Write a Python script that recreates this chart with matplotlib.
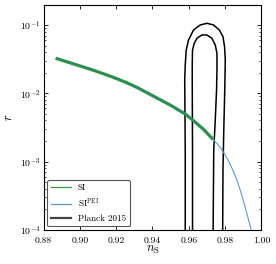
"""Tensor-to-scalar ratio vs spectral index: SI and SI^PEI against Planck 2015 contours."""
import matplotlib
matplotlib.use("Agg")
import matplotlib.pyplot as plt
from matplotlib.lines import Line2D

plt.rcParams["font.family"] = "serif"
plt.rcParams["font.serif"] = ["cmr10"]
plt.rcParams["mathtext.fontset"] = "cm"
plt.rcParams["axes.formatter.use_mathtext"] = True

# ---------------------------------------------------------------------------
# data
# ---------------------------------------------------------------------------

# SI prediction (green, thick)
ns_si = [0.88668, 0.89843, 0.90781, 0.91720, 0.92493, 0.93155, 0.94038,
         0.94976, 0.95804, 0.96245, 0.96797, 0.97332]
r_si = [0.03254, 0.02596, 0.02157, 0.01762, 0.01463, 0.01216, 0.00913,
        0.00674, 0.00498, 0.00400, 0.00300, 0.00212]

# SI^PEI prediction (blue, thin) - same track, continues further
ns_pei = ns_si + [0.97553, 0.97774, 0.97994, 0.98215, 0.98436, 0.98657,
                  0.98877, 0.99098, 0.99319, 0.99446]
r_pei = r_si + [0.001841, 0.001555, 0.001271, 0.000993, 0.000741, 0.000529,
                0.000353, 0.000220, 0.0001327, 0.0000980]

# Planck 2015 contours (outer = 95%, inner = 68%)
ns_outer = [0.95804, 0.95804, 0.95776, 0.95804, 0.95859, 0.95986, 0.96262,
            0.96631, 0.97001, 0.97365, 0.97680, 0.97884, 0.97972, 0.98011,
            0.97983, 0.97928, 0.97884, 0.97862]
r_outer = [5e-5, 1.48e-3, 1.57e-2, 2.60e-2, 4.30e-2, 6.03e-2, 8.45e-2,
           0.100, 0.1059, 0.100, 8.45e-2, 6.74e-2, 4.81e-2, 3.08e-2,
           1.12e-2, 2.90e-3, 7.53e-4, 5e-5]

ns_inner = [0.96206, 0.96206, 0.96190, 0.96190, 0.96206, 0.96300, 0.96449,
            0.96725, 0.97001, 0.97277, 0.97459, 0.97553, 0.97553, 0.97531,
            0.97459, 0.97376, 0.97332]
r_inner = [5e-5, 1.48e-3, 1.57e-2, 2.60e-2, 4.30e-2, 5.40e-2, 6.38e-2,
           7.14e-2, 7.14e-2, 6.38e-2, 5.09e-2, 3.85e-2, 2.32e-2, 1.12e-2,
           4.06e-3, 1.48e-3, 5e-5]

COLOR_SI = "#2a8f4f"
COLOR_PEI = "#5b9bd5"

fig = plt.figure(figsize=(2.76, 2.64), dpi=100)
ax = fig.add_axes([0.158, 0.129, 0.789, 0.852])

ax.plot(ns_outer, r_outer, color="k", lw=1.1)
ax.plot(ns_inner, r_inner, color="k", lw=1.1)
ax.plot(ns_pei, r_pei, color=COLOR_PEI, lw=0.8)
ax.plot(ns_si, r_si, color=COLOR_SI, lw=2.3, solid_capstyle="butt")

ax.set_yscale("log")
ax.set_xlim(0.88, 1.00)
ax.set_ylim(1e-4, 0.196)
ax.set_xticks([0.88, 0.90, 0.92, 0.94, 0.96, 0.98, 1.00])
ax.set_xticklabels(["0.88", "0.90", "0.92", "0.94", "0.96", "0.98", "1.00"])

ax.tick_params(which="both", direction="in", top=True, right=True,
               labelsize=7, pad=2.5)
ax.tick_params(axis="x", pad=5)
ax.tick_params(which="major", length=3, width=0.6)
ax.tick_params(which="minor", length=1.5, width=0.5)
for sp in ax.spines.values():
    sp.set_linewidth(0.8)

ax.set_xlabel(r"$n_{\rm S}$", fontsize=9, labelpad=-1)
ax.set_ylabel(r"$r$", fontsize=9, labelpad=3)

handles = [
    Line2D([], [], color="#3a9a3a", lw=0.9),
    Line2D([], [], color=COLOR_PEI, lw=0.9),
    Line2D([], [], color="#444444", lw=1.6),
]
labels = ["SI", r"SI$^{\rm PEI}$", "Planck 2015"]
leg = ax.legend(handles, labels, loc="lower left", fontsize=6.5,
                fancybox=True, framealpha=1, borderaxespad=0.4,
                handlelength=2.2, labelspacing=0.5)
leg.get_frame().set_edgecolor("#555555")
leg.get_frame().set_linewidth(0.8)

fig.savefig("out.png", dpi=100)
